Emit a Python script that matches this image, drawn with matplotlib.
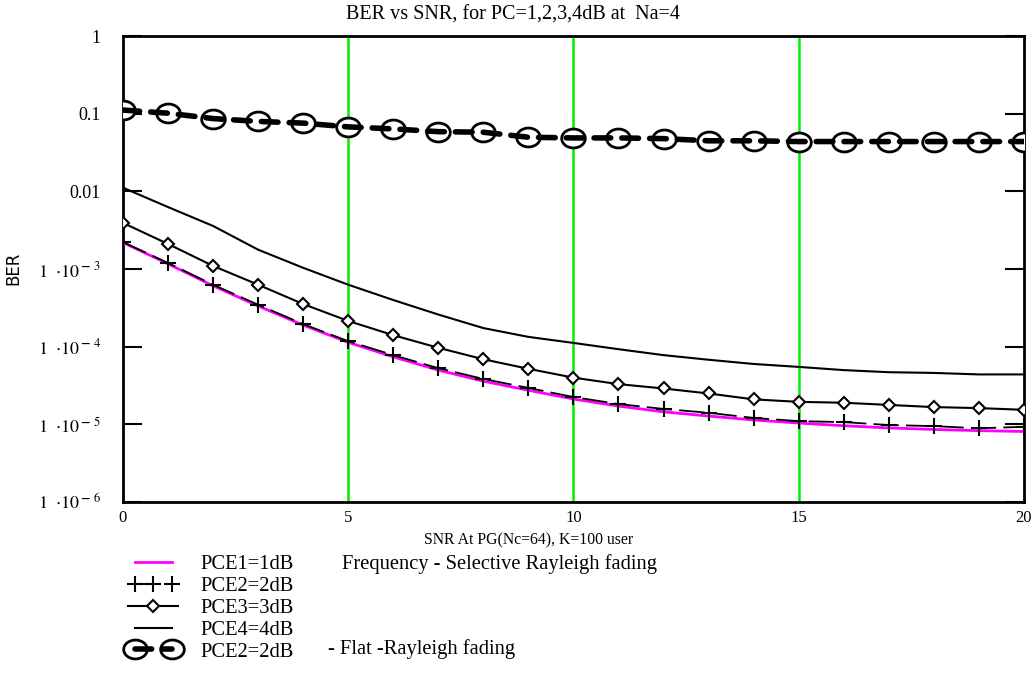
import numpy as np
import matplotlib
matplotlib.use("Agg")
import matplotlib.pyplot as plt
from matplotlib.path import Path
from matplotlib.legend_handler import HandlerLine2D, HandlerTuple

plt.rcParams["font.family"] = ["Liberation Serif", "DejaVu Serif"]
plt.rcParams["mathtext.fontset"] = "stix"

# SNR values
snr = list(range(0, 21))

# BER
pce1 = [2.2e-3, 1.17e-3, 6.1e-4, 3.35e-4, 1.9e-4, 1.14e-4, 7.4e-5, 5.0e-5, 3.6e-5, 2.75e-5,
        2.12e-5, 1.72e-5, 1.45e-5, 1.28e-5, 1.14e-5, 1.04e-5, 9.6e-6, 9.0e-6, 8.6e-6, 8.3e-6, 8.1e-6]
pce2 = [2.23e-3, 1.20e-3, 6.3e-4, 3.48e-4, 1.96e-4, 1.18e-4, 7.8e-5, 5.3e-5, 3.85e-5, 2.95e-5,
        2.25e-5, 1.83e-5, 1.58e-5, 1.41e-5, 1.21e-5, 1.10e-5, 1.07e-5, 9.8e-6, 9.5e-6, 8.9e-6, 9.3e-6]
pce3 = [3.94e-3, 2.11e-3, 1.10e-3, 6.3e-4, 3.55e-4, 2.15e-4, 1.41e-4, 9.7e-5, 6.9e-5, 5.2e-5,
        4.0e-5, 3.3e-5, 2.9e-5, 2.5e-5, 2.1e-5, 1.95e-5, 1.9e-5, 1.78e-5, 1.67e-5, 1.62e-5, 1.54e-5]
pce4 = [1.12e-2, 6.3e-3, 3.6e-3, 1.78e-3, 1.04e-3, 6.3e-4, 4.0e-4, 2.6e-4, 1.74e-4, 1.34e-4,
        1.12e-4, 9.3e-5, 7.8e-5, 6.8e-5, 6.0e-5, 5.5e-5, 5.0e-5, 4.7e-5, 4.6e-5, 4.4e-5, 4.4e-5]
flat = [0.112, 0.102, 0.087, 0.080, 0.076, 0.068, 0.064, 0.059, 0.058, 0.050,
        0.049, 0.049, 0.048, 0.045, 0.045, 0.044, 0.044, 0.044, 0.044, 0.044, 0.044]

ytick_vals = [1, 0.1, 0.01, 1e-3, 1e-4, 1e-5, 1e-6]
ytick_labels = ["1", "0.1", "0.01"] + [r"$1\ \ {\cdot}10^{\,\mathbf{-}\ %d}$" % k for k in (3, 4, 5, 6)]
xtick_vals = [0, 5, 10, 15, 20]

fig = plt.figure(figsize=(10.35, 6.75), dpi=100)
ax = fig.add_axes([0.1188, 0.2563, 0.8705, 0.690])

# green grid lines
for xv in xtick_vals[1:-1]:
    ax.axvline(xv, color="#00ee00", linewidth=1.8, zorder=1)

# ellipse marker for the flat fading curve
circ = Path.unit_circle()
ellipse = Path(circ.vertices * np.array([1.25, 1.0]), circ.codes)

l1, = ax.plot(snr, pce1, color="#ff00ff", linewidth=2, zorder=3)
l2, = ax.plot(snr, pce2, color="black", linewidth=1.3, linestyle=(0, (14, 4)),
              marker="+", markersize=11, markeredgewidth=1.5, zorder=4)
l3, = ax.plot(snr, pce3, color="black", linewidth=1.5, marker="D", markersize=6,
              markerfacecolor="white", markeredgewidth=1.5, zorder=4)
l4, = ax.plot(snr, pce4, color="black", linewidth=1.5, zorder=4)
l5m, = ax.plot(snr, flat, linestyle="none", marker=ellipse, markersize=17,
               markerfacecolor="white", markeredgecolor="black", markeredgewidth=2, zorder=4)
l5, = ax.plot(snr, flat, color="black", linewidth=4, linestyle=(0, (3, 2)),
              solid_capstyle="round", dash_capstyle="round", zorder=5)

ax.set_yscale("log")
ax.set_xlim(0, 20)
ax.set_ylim(1e-6, 1)
ax.set_yticks(ytick_vals)
ax.set_yticklabels(ytick_labels)
ax.minorticks_off()
ax.set_xticks(xtick_vals)
ax.set_xticklabels([str(v) for v in xtick_vals])
ax.tick_params(axis="y", direction="in", length=14, width=1.5, right=True, labelsize=13, pad=16)
ax.tick_params(axis="x", length=0, labelsize=12, pad=6)
for sp in ax.spines.values():
    sp.set_linewidth(2)

fig.text(0.4957, 0.978, "BER vs SNR, for PC=1,2,3,4dB at  Na=4", fontsize=14.5,
         ha="center", va="center")
fig.text(0.013, 0.603, "BER", rotation=90, fontsize=12, va="center", ha="center",
         family=["Liberation Sans Narrow", "DejaVu Sans"])
fig.text(0.511, 0.200, "SNR At PG(Nc=64), K=100 user", fontsize=11.3, ha="center", va="center")

leg = ax.legend([l1, l2, l3, l4, (l5m, l5)],
                ["PCE1=1dB", "PCE2=2dB", "PCE3=3dB", "PCE4=4dB", "PCE2=2dB"],
                handler_map={l2: HandlerLine2D(numpoints=3), l3: HandlerLine2D(numpoints=1),
                             tuple: HandlerTuple(ndivide=1)},
                loc="upper left", bbox_to_anchor=(0.124, 0.178), bbox_transform=fig.transFigure,
                frameon=False, fontsize=14.8, handlelength=2.4, handletextpad=1.1,
                labelspacing=0.12, borderpad=0, borderaxespad=0, numpoints=2)
fig.text(0.330, 0.164, "Frequency - Selective Rayleigh fading", fontsize=14.8, va="center")
fig.text(0.317, 0.038, "- Flat -Rayleigh fading", fontsize=14.8, va="center")

fig.savefig("out.png", dpi=100)
